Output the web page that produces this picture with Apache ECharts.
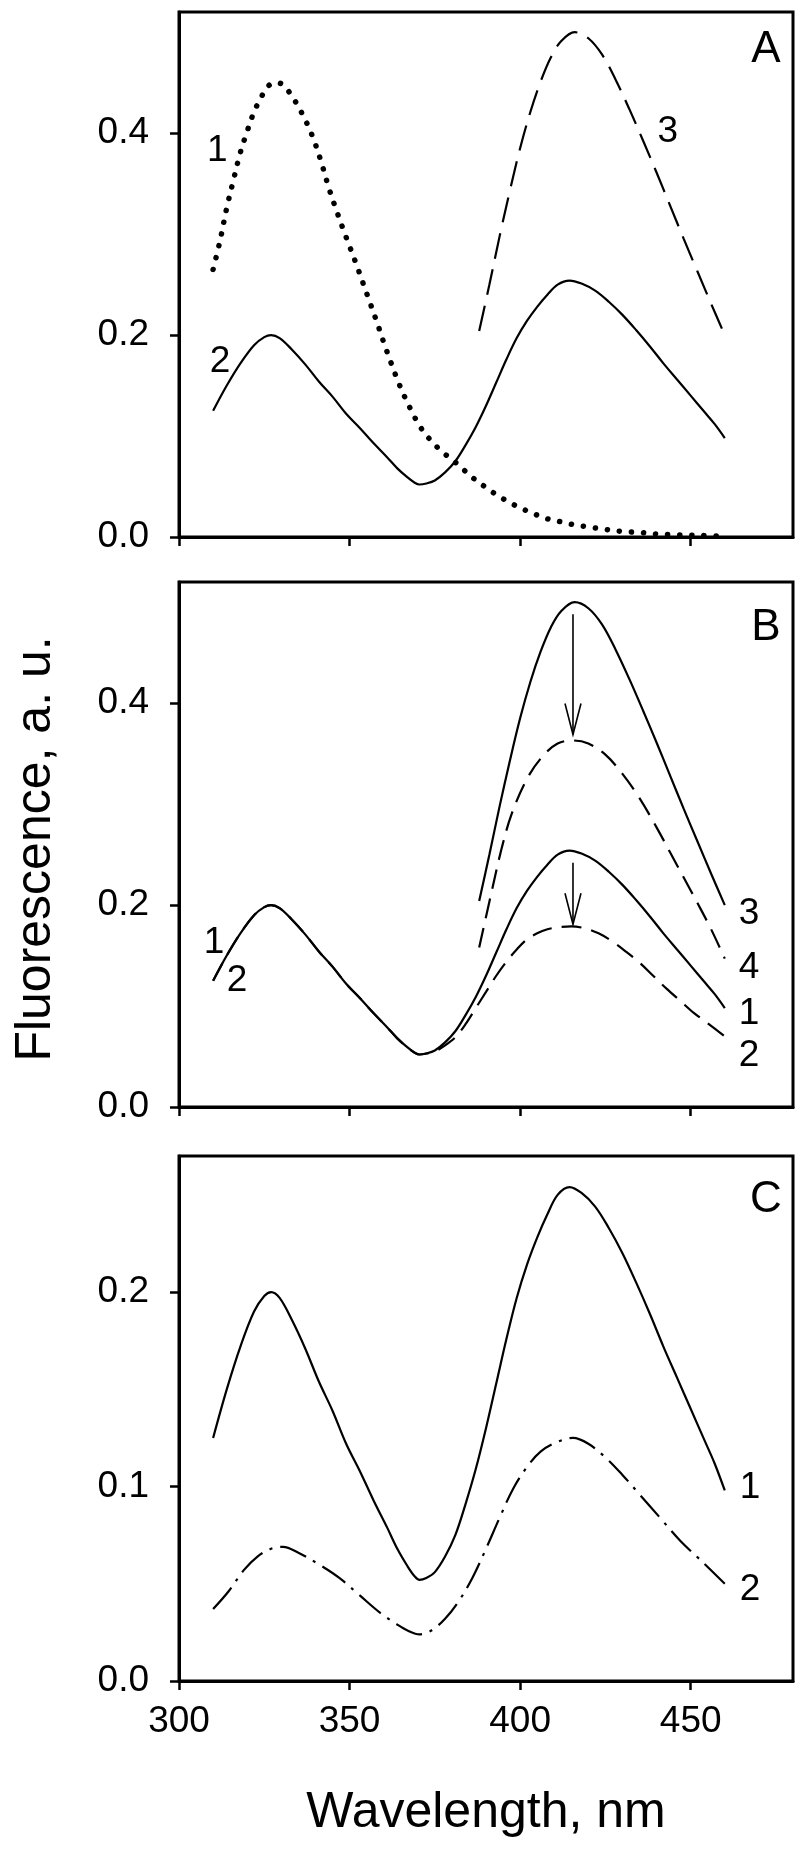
<!DOCTYPE html>
<html>
<head>
<meta charset="utf-8">
<script src="https://cdn.jsdelivr.net/npm/echarts@6/dist/echarts.min.js"></script>
<style>
  html, body { margin: 0; padding: 0; background: #fff; }
  #chart { width: 800px; height: 1857px; }
</style>
</head>
<body>
<div id="chart"></div>
<script>
// curve 1 of panel A (dotted)
const wlDotted = [310, 312, 314, 316, 318, 320, 322, 324, 326, 328, 330, 332, 334, 336, 338, 340, 342, 344, 346, 348, 350, 352, 354, 356, 358, 360, 362, 364, 366, 368, 370, 372, 374, 376, 378, 380, 383, 386, 390, 393, 397, 400, 404, 408, 412, 416, 420, 425, 430, 435, 440, 445, 450, 455, 458];
const valDotted = [0.265, 0.293, 0.326, 0.354, 0.381, 0.402, 0.421, 0.435, 0.446, 0.450, 0.449, 0.442, 0.432, 0.420, 0.406, 0.389, 0.368, 0.345, 0.325, 0.306, 0.288, 0.270, 0.251, 0.232, 0.213, 0.193, 0.174, 0.156, 0.140, 0.126, 0.113, 0.103, 0.095, 0.088, 0.082, 0.077, 0.068, 0.059, 0.049, 0.042, 0.034, 0.029, 0.023, 0.018, 0.015, 0.012, 0.010, 0.0075, 0.0055, 0.0045, 0.003, 0.0022, 0.0018, 0.0013, 0.001];

// solid two-peak spectrum (A2, B1, C1)
const wlMain = [310, 314, 318, 322, 325, 327, 329.5, 333, 337, 341, 345, 349, 353, 357, 361, 364, 367, 369, 370.5, 372.5, 375, 378, 381, 384, 387, 390, 393, 396, 399, 402, 405, 408, 411, 414.5, 418, 422, 426, 430, 434, 438, 442, 446, 450, 454, 457, 460];
const valMain = [0.125, 0.150, 0.172, 0.190, 0.198, 0.200, 0.197, 0.186, 0.171, 0.154, 0.139, 0.122, 0.108, 0.093, 0.079, 0.068, 0.059, 0.054, 0.052, 0.053, 0.056, 0.064, 0.075, 0.091, 0.109, 0.130, 0.153, 0.176, 0.197, 0.214, 0.228, 0.240, 0.250, 0.254, 0.251, 0.244, 0.233, 0.220, 0.205, 0.189, 0.172, 0.156, 0.140, 0.124, 0.112, 0.098];

// long-wave band (A3 dashed, B3 solid)
const wlBand = [388, 391, 394, 397, 400, 403, 406, 409, 412, 416, 420, 424, 428, 432, 436, 440, 444, 448, 452, 456, 460];
const valBand = [0.204, 0.250, 0.298, 0.343, 0.385, 0.421, 0.451, 0.475, 0.491, 0.500, 0.494, 0.478, 0.453, 0.424, 0.393, 0.361, 0.328, 0.295, 0.263, 0.231, 0.200];

// panel B curve 2 (dashed)
const wlB2 = [310, 314, 318, 322, 325, 327, 329.5, 333, 337, 341, 345, 349, 353, 357, 361, 364, 367, 369, 370.5, 372.5, 375, 378, 381, 384, 387, 390, 393, 396, 399, 402, 405, 408, 411, 415, 419, 423, 427, 431, 435, 439, 443, 447, 451, 455, 460];
const valB2 = [0.125, 0.150, 0.172, 0.190, 0.198, 0.200, 0.197, 0.186, 0.171, 0.154, 0.139, 0.122, 0.108, 0.093, 0.079, 0.068, 0.059, 0.054, 0.052, 0.053, 0.055, 0.061, 0.069, 0.082, 0.098, 0.114, 0.130, 0.144, 0.156, 0.166, 0.172, 0.176, 0.178, 0.179, 0.177, 0.172, 0.164, 0.154, 0.143, 0.130, 0.117, 0.105, 0.093, 0.083, 0.070];

// panel B curve 4 (dashed)
const wlB4 = [388, 391.5, 394.5, 397.5, 402, 406.5, 411, 415.5, 420, 425, 430, 435, 440, 444, 448, 452, 456, 460];
const valB4 = [0.158, 0.211, 0.255, 0.290, 0.325, 0.347, 0.360, 0.363, 0.360, 0.349, 0.330, 0.306, 0.277, 0.252, 0.227, 0.202, 0.176, 0.147];

// panel C curve 2 (dash-dot)
const wlC2 = [310, 314.5, 319, 323, 327, 330.5, 335, 341, 347, 353, 359, 364, 367, 370.5, 374, 378, 382, 386, 390, 394, 398, 402, 406, 411, 415.5, 420, 425, 430, 435, 441, 447, 453, 460];
const valC2 = [0.037, 0.046, 0.057, 0.064, 0.068, 0.069, 0.066, 0.060, 0.053, 0.044, 0.035, 0.029, 0.026, 0.024, 0.026, 0.032, 0.041, 0.053, 0.068, 0.084, 0.099, 0.110, 0.118, 0.123, 0.125, 0.122, 0.115, 0.106, 0.096, 0.084, 0.072, 0.062, 0.050];

// arrows in panel B: [wavelength, from, to]
const arrowsB = [[415.5, 0.488, 0.369], [415.5, 0.242, 0.181]];

// curve labels: [wavelength, value, text]
const labelsA = [[311.2, 0.383, '1'], [312.0, 0.174, '2'], [443.3, 0.401, '3']];
const labelsB = [[310.3, 0.163, '1'], [317.0, 0.125, '2'], [467.1, 0.191, '3'], [467.1, 0.138, '4'], [467.1, 0.092, '1'], [467.1, 0.051, '2']];
const labelsC = [[467.4, 0.0995, '1'], [467.4, 0.0468, '2']];

const xTicks = [300, 350, 400, 450];
const yTicksAB = [0, 0.2, 0.4];
const yTicksC = [0, 0.1, 0.2];

const font = 'Liberation Sans, Arial, sans-serif';
const zip = (xs, ys) => xs.map((x, i) => [x, ys[i]]);

const chart = echarts.init(document.getElementById('chart'), null, { renderer: 'canvas' });

const grids = [
  { left: 179, top: 12, width: 614, height: 525 },
  { left: 179, top: 582, width: 614, height: 525 },
  { left: 179, top: 1156, width: 614, height: 525 }
].map(g => Object.assign(g, { show: true, borderColor: '#000', borderWidth: 3, containLabel: false }));

function xAxisFor(i, showLabels) {
  return {
    type: 'value', gridIndex: i, min: 300, max: 480,
    axisLine: { show: true, lineStyle: { color: '#000', width: 3 } },
    axisTick: { show: true, length: 9, inside: false, customValues: xTicks, lineStyle: { color: '#000', width: 2.5 } },
    axisLabel: { show: showLabels, customValues: xTicks, margin: 22, color: '#000', fontSize: 37, fontFamily: font },
    splitLine: { show: false }
  };
}
function yAxisFor(i, max, ticks) {
  return {
    type: 'value', gridIndex: i, min: 0, max: max,
    axisLine: { show: true, lineStyle: { color: '#000', width: 3 } },
    axisTick: { show: true, length: 9, customValues: ticks, lineStyle: { color: '#000', width: 2.5 } },
    axisLabel: { customValues: ticks, margin: 30, color: '#000', fontSize: 37, fontFamily: font, formatter: v => v.toFixed(1) },
    splitLine: { show: false }
  };
}

function line(i, xs, ys, style) {
  return {
    type: 'line', xAxisIndex: i, yAxisIndex: i, data: zip(xs, ys),
    showSymbol: false, symbol: 'none', smooth: 0.35, z: 3,
    lineStyle: Object.assign({ color: '#000', width: 2.2 }, style)
  };
}
function labels(i, list) {
  return {
    type: 'scatter', xAxisIndex: i, yAxisIndex: i, symbolSize: 0, z: 5,
    itemStyle: { opacity: 1 },
    data: list.map(l => ({ value: [l[0], l[1]], name: l[2] })),
    label: { show: true, position: 'inside', formatter: '{b}', color: '#000', fontSize: 37, fontFamily: font }
  };
}

const option = {
  animation: false,
  backgroundColor: '#fff',
  grid: grids,
  xAxis: [xAxisFor(0, false), xAxisFor(1, false), xAxisFor(2, true)],
  yAxis: [yAxisFor(0, 0.52, yTicksAB), yAxisFor(1, 0.52, yTicksAB), yAxisFor(2, 0.27, yTicksC)],
  series: [
    line(0, wlDotted, valDotted, { type: [0.1, 12], cap: 'round', width: 5.5 }),
    line(0, wlMain, valMain, {}),
    line(0, wlBand, valBand, { type: [26, 11] }),
    labels(0, labelsA),

    line(1, wlMain, valMain, {}),
    line(1, wlB2, valB2, { type: [20, 10] }),
    line(1, wlBand, valBand, {}),
    line(1, wlB4, valB4, { type: [20, 10] }),
    {
      type: 'custom', xAxisIndex: 1, yAxisIndex: 1, data: arrowsB, z: 4,
      encode: { x: 0, y: [1, 2] }, clip: false,
      renderItem: function (params, api) {
        const a = api.coord([api.value(0), api.value(1)]);
        const b = api.coord([api.value(0), api.value(2)]);
        const st = { stroke: '#000', lineWidth: 1.6, fill: null };
        return {
          type: 'group',
          children: [
            { type: 'line', shape: { x1: a[0], y1: a[1], x2: b[0], y2: b[1] }, style: st },
            { type: 'polyline', shape: { points: [[b[0] - 8, b[1] - 31], [b[0], b[1]], [b[0] + 8, b[1] - 31]] }, style: st }
          ]
        };
      }
    },
    labels(1, labelsB),

    line(2, wlMain, valMain, {}),
    line(2, wlC2, valC2, { type: [28, 8, 3, 8] }),
    labels(2, labelsC)
  ],
  graphic: [
    { type: 'text', x: 766, y: 50, style: { text: 'A', fontSize: 44, fontFamily: font, fill: '#000', align: 'center', verticalAlign: 'middle' } },
    { type: 'text', x: 766, y: 628, style: { text: 'B', fontSize: 44, fontFamily: font, fill: '#000', align: 'center', verticalAlign: 'middle' } },
    { type: 'text', x: 766, y: 1200, style: { text: 'C', fontSize: 44, fontFamily: font, fill: '#000', align: 'center', verticalAlign: 'middle' } },
    { type: 'text', x: 36, y: 849, rotation: Math.PI / 2, style: { text: 'Fluorescence, a. u.', fontSize: 50, fontFamily: font, fill: '#000', align: 'center', verticalAlign: 'middle' } },
    { type: 'text', x: 486, y: 1813, style: { text: 'Wavelength, nm', fontSize: 50, fontFamily: font, fill: '#000', align: 'center', verticalAlign: 'middle' } }
  ]
};

chart.setOption(option);
</script>
</body>
</html>
